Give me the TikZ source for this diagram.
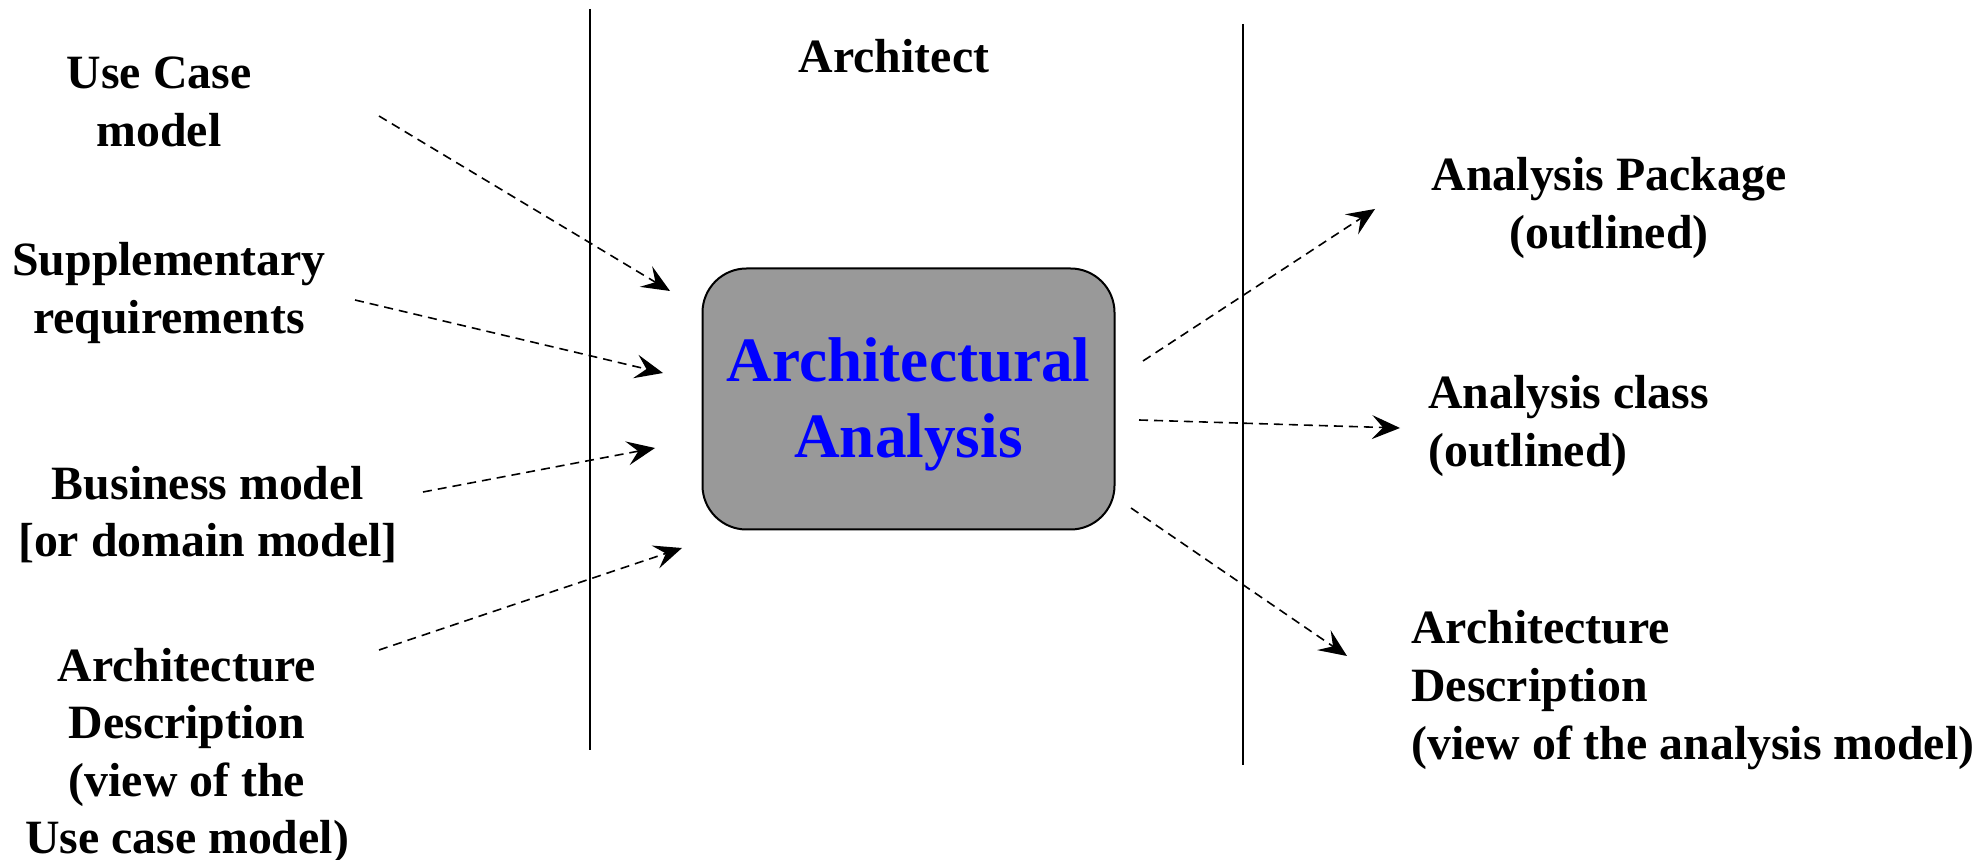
\documentclass[tikz,border=0pt]{standalone}
\usepackage{fontspec}
\setmainfont{Liberation Serif}
\usetikzlibrary{arrows.meta}
\tikzset{
  lbl/.style={font=\fontsize{23.9}{28.6}\selectfont\bfseries, inner sep=0pt, align=center},
  lbll/.style={font=\fontsize{23.9}{29.2}\selectfont\bfseries, inner sep=0pt, align=left, anchor=west},
  flow/.style={dash pattern=on 4.5pt off 3pt, line width=0.8pt, -{Stealth[length=14pt,width=12pt,inset=5.5pt]}},
  lane/.style={line width=1.1pt},
  actbox/.style={draw, line width=1pt, fill=black!40, rounded corners=22pt, minimum width=206pt, minimum height=130.5pt, align=center, text=blue, font=\fontsize{31.6}{38}\selectfont\bfseries}
}
\begin{document}
\begin{tikzpicture}[x=0.5pt,y=-0.5pt]
\useasboundingbox (0,0) rectangle (1980,860);
% swimlane lines
\coordinate (l1t) at (590,9);
\coordinate (l1b) at (590,750);
\coordinate (l2t) at (1243,24);
\coordinate (l2b) at (1243,765);
\draw[lane] (l1t) -- (l1b);
\draw[lane] (l2t) -- (l2b);
\node[lbl] (arch) at (894,56) {Architect};
% central box
\node[actbox, text depth=0pt] (box) at (908.5,399) {};
\node[text=blue, font=\fontsize{31.6}{38}\selectfont\bfseries, align=center, inner sep=0pt] (boxt) at (908.5,404) {Architectural\\Analysis};
% inputs
\node[lbl] (uc) at (159,102) {Use Case\\model};
\node[lbl] (sup) at (169,293) {Supplementary\\requirements};
\node[lbl] (bus) at (208,515) {Business model\\{[or domain model]}};
\node[lbl] (ad) at (187,756) {Architecture\\Description\\(view of the\\Use case model)};
% outputs
\node[lbl] (ap) at (1609,208) {Analysis Package\\(outlined)};
\node[lbll] (ac) at (1428,426) {Analysis class\\(outlined)};
\node[lbll] (ad2) at (1411,690) {Architecture\\Description\\(view of the analysis model)};
% arrow ends
\coordinate (a1s) at (379,116); \coordinate (a1e) at (670,291);
\coordinate (a2s) at (355,300); \coordinate (a2e) at (663,373);
\coordinate (a3s) at (423,492); \coordinate (a3e) at (655,448);
\coordinate (a4s) at (379,650); \coordinate (a4e) at (682,548);
\coordinate (b1s) at (1143,361); \coordinate (b1e) at (1375,209);
\coordinate (b2s) at (1139,420); \coordinate (b2e) at (1400,428);
\coordinate (b3s) at (1131,508); \coordinate (b3e) at (1347,656);
\draw[flow] (a1s) -- (a1e);
\draw[flow] (a2s) -- (a2e);
\draw[flow] (a3s) -- (a3e);
\draw[flow] (a4s) -- (a4e);
\draw[flow] (b1s) -- (b1e);
\draw[flow] (b2s) -- (b2e);
\draw[flow] (b3s) -- (b3e);
\end{tikzpicture}
\end{document}
